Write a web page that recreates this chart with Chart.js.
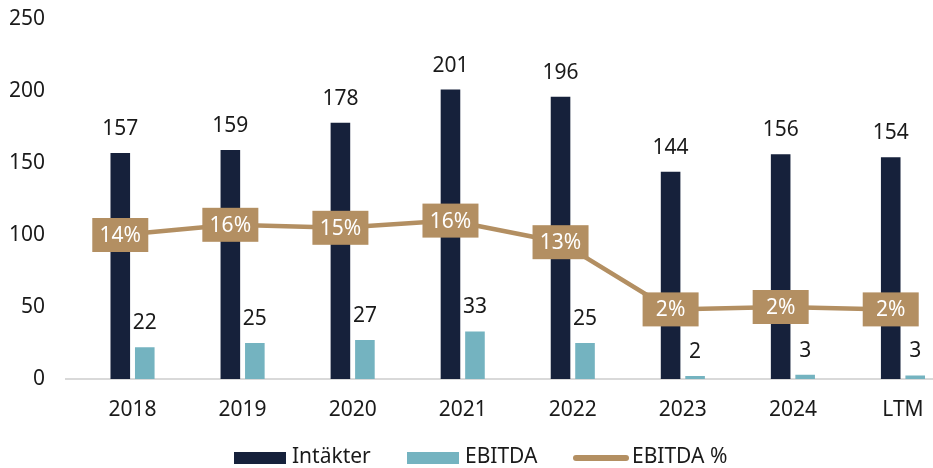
<!DOCTYPE html>
<html>
<head>
<meta charset="utf-8">
<script src="https://cdn.jsdelivr.net/npm/chart.js@4"></script>
<style>
  html, body { margin: 0; padding: 0; overflow: hidden; background: #fff; }
  #wrap { width: 960px; height: 480px; }
</style>
</head>
<body>
<div id="wrap"><canvas id="grafica"></canvas></div>
<script>
const years = ['2018', '2019', '2020', '2021', '2022', '2023', '2024', 'LTM'];
const intakter = [157, 159, 178, 201, 196, 144, 156, 154];
const ebitda = [22, 25, 27, 33, 25, 2, 3, 2.5];
const ebitdaPct = [14.0, 15.7, 15.2, 16.4, 12.8, 1.6, 2.0, 1.6];
const yTicks = [0, 50, 100, 150, 200, 250];

const navy = '#16213B';
const teal = '#74B3C0';
const tan = '#B38F62';
const fontName = '"Noto Sans", sans-serif';

// la linea va centrada sobre la barra de Intäkter
function desplazamiento(chart) {
    const bar = chart.getDatasetMeta(1).data[0];
    return bar.x - chart.scales.x.getPixelForValue(0);
}

const etiquetas = {
    id: 'etiquetas',
    beforeDatasetsDraw(chart) {
        const ctx = chart.ctx;
        const y0 = chart.scales.y.getPixelForValue(0);
        ctx.save();
        ctx.strokeStyle = '#D9D9D9';
        ctx.lineWidth = 2;
        ctx.beginPath();
        ctx.moveTo(65, y0);
        ctx.lineTo(933, y0);
        ctx.stroke();
        ctx.restore();
    },
    beforeDatasetDraw(chart, args) {
        if (args.index === 0) {
            chart.ctx.save();
            chart.ctx.translate(desplazamiento(chart), 0);
        }
    },
    afterDatasetDraw(chart, args) {
        if (args.index === 0) chart.ctx.restore();
    },
    afterDatasetsDraw(chart) {
        const ctx = chart.ctx;
        ctx.save();
        ctx.font = '21px ' + fontName;
        ctx.textAlign = 'center';
        ctx.textBaseline = 'middle';
        [1, 2].forEach(di => {
            const meta = chart.getDatasetMeta(di);
            meta.data.forEach((bar, i) => {
                const v = chart.data.datasets[di].data[i];
                ctx.fillStyle = '#1a1a1a';
                ctx.fillText(Math.round(v), bar.x, bar.y - 24);
            });
        });
        const dx = desplazamiento(chart);
        const lm = chart.getDatasetMeta(0);
        lm.data.forEach((pt, i) => {
            ctx.fillStyle = tan;
            ctx.fillRect(pt.x + dx - 28, pt.y - 17, 56, 34);
            ctx.fillStyle = '#ffffff';
            ctx.fillText(Math.round(ebitdaPct[i]) + '%', pt.x + dx, pt.y + 1);
        });
        ctx.restore();
    },
    afterDraw(chart) {
        // leyenda
        const ctx = chart.ctx;
        const ds = chart.data.datasets;
        const yc = 458;
        ctx.save();
        ctx.font = '21px ' + fontName;
        ctx.textBaseline = 'middle';
        ctx.textAlign = 'left';
        ctx.fillStyle = navy;
        ctx.fillRect(234, yc - 6, 52, 12);
        ctx.fillStyle = '#1a1a1a';
        ctx.fillText(ds[1].label, 292, yc - 1);
        ctx.fillStyle = teal;
        ctx.fillRect(407, yc - 6, 52, 12);
        ctx.fillStyle = '#1a1a1a';
        ctx.fillText(ds[2].label, 465, yc - 1);
        ctx.strokeStyle = tan;
        ctx.lineWidth = 6;
        ctx.lineCap = 'round';
        ctx.beginPath();
        ctx.moveTo(576, yc);
        ctx.lineTo(626, yc);
        ctx.stroke();
        ctx.fillStyle = '#1a1a1a';
        ctx.fillText(ds[0].label, 632, yc - 1);
        ctx.restore();
    }
};

const ctx = document.getElementById('grafica').getContext('2d');
const chart = new Chart(ctx, {
    type: 'bar',
    data: {
        labels: years,
        datasets: [{
            type: 'line',
            label: 'EBITDA %',
            data: ebitdaPct,
            yAxisID: 'y2',
            borderColor: tan,
            borderWidth: 4.5,
            pointRadius: 0,
            tension: 0,
            clip: false,
            order: 0
        }, {
            label: 'Intäkter',
            data: intakter,
            backgroundColor: navy,
            categoryPercentage: 0.445,
            barPercentage: 0.8,
            order: 1
        }, {
            label: 'EBITDA',
            data: ebitda,
            backgroundColor: teal,
            categoryPercentage: 0.445,
            barPercentage: 0.8,
            order: 1
        }]
    },
    options: {
        responsive: true,
        maintainAspectRatio: false,
        animation: false,
        layout: { padding: { top: 19, right: 2, left: 0, bottom: 0 } },
        plugins: {
            legend: { display: false },
            tooltip: { enabled: false }
        },
        scales: {
            x: {
                offset: true,
                grid: { display: false, drawTicks: false },
                border: { display: false },
                ticks: { font: { family: fontName, size: 21 }, color: '#1a1a1a', padding: 18 },
                afterFit: function(s) { s.height = 101; }
            },
            y: {
                min: 0,
                max: 250,
                afterBuildTicks: function(s) { s.ticks = yTicks.map(v => ({ value: v })); },
                grid: { display: false, drawTicks: false },
                border: { display: false },
                ticks: { font: { family: fontName, size: 21 }, color: '#1a1a1a', padding: 32.5 },
                afterFit: function(s) { s.width = 77.5; s.paddingTop = 0; s.paddingBottom = 0; }
            },
            y2: {
                display: false,
                min: -10,
                max: 50
            }
        }
    },
    plugins: [etiquetas]
});
</script>
</body>
</html>
